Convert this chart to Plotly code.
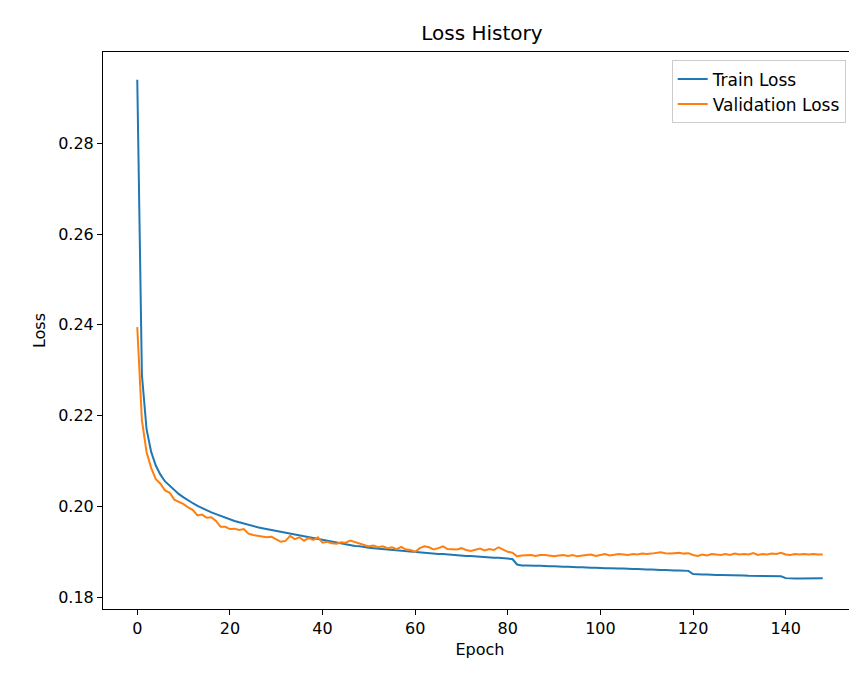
import plotly.graph_objects as go

train_loss = [
    0.2940, 0.2290, 0.2170, 0.2120, 0.2090, 0.2070, 0.2055, 0.2045, 0.2035, 0.2027,
    0.2020, 0.2013, 0.2007, 0.2001, 0.1996, 0.1991, 0.1987, 0.1983, 0.1979, 0.1975,
    0.1971, 0.1968, 0.1965, 0.1962, 0.1959, 0.1957, 0.1954, 0.1952, 0.1950, 0.1948,
    0.1946, 0.1944, 0.1942, 0.1940, 0.1938, 0.1936, 0.1934, 0.1932, 0.1930, 0.1928,
    0.1926, 0.1924, 0.1922, 0.1920, 0.1918, 0.1916, 0.1915, 0.1913, 0.1912, 0.1910,
    0.1909, 0.1908, 0.1907, 0.1906, 0.1905, 0.1904, 0.1903, 0.1902, 0.1901, 0.1900,
    0.1899, 0.1898, 0.1897, 0.1897, 0.1896, 0.1895, 0.1895, 0.1894, 0.1893, 0.1893,
    0.1892, 0.1891, 0.1891, 0.1890, 0.1889, 0.1889, 0.1888, 0.1887, 0.1887, 0.1886,
    0.1885, 0.1884, 0.1872, 0.1870, 0.1870, 0.1869, 0.1869, 0.1869, 0.1868, 0.1868,
    0.1868, 0.1867, 0.1867, 0.1867, 0.1866, 0.1866, 0.1866, 0.1865, 0.1865, 0.1865,
    0.1864, 0.1864, 0.1864, 0.1863, 0.1863, 0.1863, 0.1862, 0.1862, 0.1862, 0.1861,
    0.1861, 0.1861, 0.1860, 0.1860, 0.1860, 0.1859, 0.1859, 0.1859, 0.1858, 0.1858,
    0.1851, 0.1850, 0.1850, 0.1850, 0.1849, 0.1849, 0.1849, 0.1849, 0.1848, 0.1848,
    0.1848, 0.1848, 0.1847, 0.1847, 0.1847, 0.1847, 0.1846, 0.1846, 0.1846, 0.1846,
    0.1842, 0.1841, 0.1841, 0.1841, 0.1841, 0.1841, 0.1841, 0.1841, 0.1842,
]

val_loss = [
    0.2395, 0.2190, 0.2120, 0.2085, 0.2060, 0.2050, 0.2035, 0.2030, 0.2015, 0.2010,
    0.2005, 0.1998, 0.1992, 0.1980, 0.1982, 0.1975, 0.1976, 0.1968, 0.1955, 0.1955,
    0.1950, 0.1951, 0.1948, 0.1950, 0.1940, 0.1937, 0.1935, 0.1934, 0.1932, 0.1933,
    0.1928, 0.1922, 0.1924, 0.1935, 0.1928, 0.1932, 0.1924, 0.1930, 0.1926, 0.1932,
    0.1920, 0.1922, 0.1919, 0.1918, 0.1921, 0.1920, 0.1925, 0.1922, 0.1918, 0.1915,
    0.1912, 0.1914, 0.1910, 0.1912, 0.1908, 0.1910, 0.1906, 0.1911, 0.1905, 0.1904,
    0.1900, 0.1908, 0.1912, 0.1910, 0.1905, 0.1908, 0.1912, 0.1906, 0.1905, 0.1905,
    0.1908, 0.1904, 0.1902, 0.1904, 0.1907, 0.1903, 0.1906, 0.1904, 0.1910, 0.1905,
    0.1900, 0.1898, 0.1890, 0.1892, 0.1893, 0.1893, 0.1891, 0.1893, 0.1893, 0.1892,
    0.1890, 0.1892, 0.1893, 0.1891, 0.1893, 0.1890, 0.1892, 0.1893, 0.1894, 0.1891,
    0.1893, 0.1895, 0.1892, 0.1893, 0.1895, 0.1894, 0.1893, 0.1895, 0.1894, 0.1896,
    0.1895, 0.1896, 0.1897, 0.1899, 0.1897, 0.1896, 0.1897, 0.1898, 0.1896, 0.1897,
    0.1893, 0.1891, 0.1894, 0.1892, 0.1895, 0.1894, 0.1893, 0.1895, 0.1893, 0.1896,
    0.1894, 0.1895, 0.1894, 0.1897, 0.1893, 0.1895, 0.1894, 0.1896, 0.1895, 0.1898,
    0.1894, 0.1893, 0.1895, 0.1894, 0.1895, 0.1894, 0.1895, 0.1894, 0.1894,
]

epochs = list(range(len(train_loss)))

fig = go.Figure()
fig.add_trace(go.Scatter(x=epochs, y=train_loss, mode="lines", name="Train Loss",
                         line=dict(color="#1f77b4", width=2)))
fig.add_trace(go.Scatter(x=epochs, y=val_loss, mode="lines", name="Validation Loss",
                         line=dict(color="#ff7f0e", width=2)))

axis = dict(showline=True, linecolor="black", linewidth=1, mirror=True, showgrid=False,
            zeroline=False, ticks="outside", ticklen=5, tickcolor="black",
            tickfont=dict(size=16, color="black"))
fig.update_xaxes(**axis, range=[-7.4, 155.4], tickvals=list(range(0, 141, 20)),
                 title=dict(text="Epoch", standoff=6, font=dict(size=16, color="black")))
fig.update_yaxes(**axis, range=[0.1774, 0.3001], tickvals=[0.18, 0.20, 0.22, 0.24, 0.26, 0.28],
                 tickformat=".2f", title=dict(text="Loss", standoff=8, font=dict(size=16, color="black")))
fig.update_layout(
    width=857, height=678,
    margin=dict(l=95, r=8, t=44, b=77),
    paper_bgcolor="white", plot_bgcolor="white",
    font=dict(family="DejaVu Sans", color="black"),
    title=dict(text="Loss History", x=0.553, xanchor="center", y=0.963, yanchor="middle",
               font=dict(size=20)),
    legend=dict(x=0.985, y=0.985, xanchor="right", yanchor="top", bordercolor="#cccccc",
                borderwidth=1, bgcolor="white", font=dict(size=17)),
)
fig.write_html("out.html")
